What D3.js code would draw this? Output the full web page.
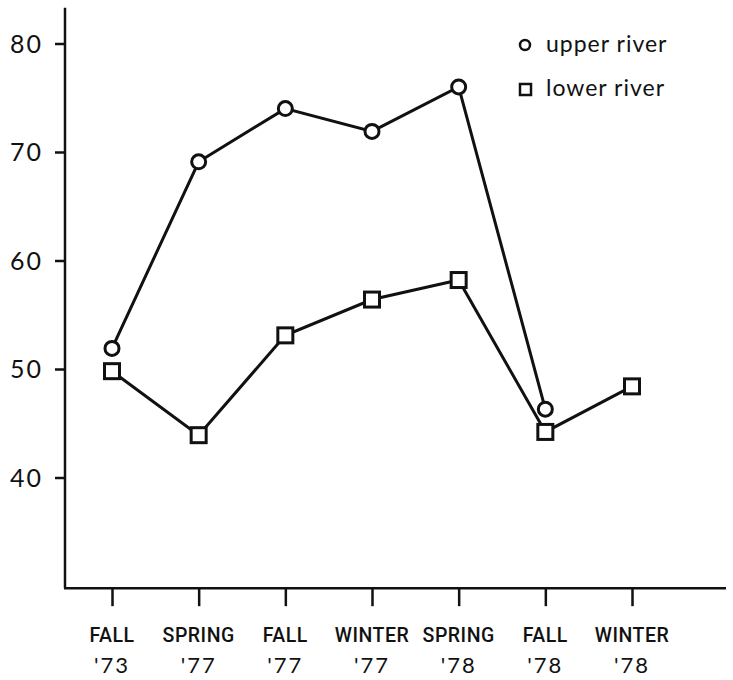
<!DOCTYPE html>
<html>
<head>
<meta charset="utf-8">
<script src="https://cdn.jsdelivr.net/npm/d3@7"></script>
<style>
  body { margin: 0; background: #fff; }
  svg { display: block; }
</style>
</head>
<body>
<div id="chart"></div>
<script>
const seasons = ["FALL", "SPRING", "FALL", "WINTER", "SPRING", "FALL", "WINTER"];
const years = ["'73", "'77", "'77", "'77", "'78", "'78", "'78"];
const upperRiver = [51.9, 69.1, 74.0, 71.9, 76.0, 46.3, null];
const lowerRiver = [49.8, 43.9, 53.1, 56.4, 58.2, 44.2, 48.4];
const yTicks = [40, 50, 60, 70, 80];

const width = 733, height = 680;
const ink = "#111";

const svg = d3.select("#chart").append("svg")
  .attr("width", width)
  .attr("height", height);

const x = d3.scalePoint()
  .domain(d3.range(seasons.length))
  .range([112, 632]);

const y = d3.scaleLinear()
  .domain([40, 80])
  .range([477.5, 43.5]);

const axisLeft = 65, axisBottom = y(29.8), axisTop = y(83.3), axisRight = 726;

// axis lines
svg.append("line")
  .attr("x1", axisLeft).attr("x2", axisLeft)
  .attr("y1", axisTop).attr("y2", axisBottom)
  .attr("stroke", ink).attr("stroke-width", 2.5);
svg.append("line")
  .attr("x1", axisLeft - 1).attr("x2", axisRight)
  .attr("y1", axisBottom).attr("y2", axisBottom)
  .attr("stroke", ink).attr("stroke-width", 2.5);

// y ticks
const gy = svg.append("g")
  .attr("transform", `translate(${axisLeft},0)`)
  .call(d3.axisLeft(y).tickValues(yTicks).tickSize(10).tickPadding(12));
gy.select(".domain").remove();
gy.selectAll(".tick line").attr("stroke", ink).attr("stroke-width", 2.5);
gy.selectAll(".tick text")
  .attr("fill", ink)
  .style("font-family", "Lato, 'DejaVu Sans', sans-serif")
  .style("font-size", "25px")
  .style("letter-spacing", "2px")
  .attr("dy", "0.35em");

// x ticks
const gx = svg.append("g")
  .attr("transform", `translate(0,${axisBottom})`)
  .call(d3.axisBottom(x).tickSize(18).tickFormat(""));
gx.select(".domain").remove();
gx.selectAll(".tick line").attr("stroke", ink).attr("stroke-width", 2.5);

const labels = svg.append("g")
  .style("font-family", "Roboto, 'Liberation Sans', sans-serif")
  .style("font-weight", 500)
  .style("font-size", "19.5px")
  .attr("fill", ink)
  .attr("text-anchor", "middle");
labels.selectAll("text.season")
  .data(seasons)
  .join("text")
  .attr("class", "season")
  .attr("x", (d, i) => x(i))
  .attr("y", 642)
  .style("letter-spacing", "0.5px")
  .text(d => d);
labels.selectAll("text.year")
  .data(years)
  .join("text")
  .attr("class", "year")
  .attr("x", (d, i) => x(i))
  .attr("y", 673)
  .style("font-family", "Lato, 'DejaVu Sans', sans-serif")
  .style("font-weight", 400)
  .style("font-size", "22px")
  .style("letter-spacing", "2px")
  .text(d => d);

const line = d3.line()
  .defined(d => d != null)
  .x((d, i) => x(i))
  .y(d => y(d));

// lines
svg.append("path")
  .datum(upperRiver)
  .attr("d", line)
  .attr("fill", "none")
  .attr("stroke", ink)
  .attr("stroke-width", 3);
svg.append("path")
  .datum(lowerRiver)
  .attr("d", line)
  .attr("fill", "none")
  .attr("stroke", ink)
  .attr("stroke-width", 3);

// markers
svg.selectAll("circle.upper")
  .data(upperRiver.map((v, i) => ({ v, i })).filter(d => d.v != null))
  .join("circle")
  .attr("class", "upper")
  .attr("cx", d => x(d.i))
  .attr("cy", d => y(d.v))
  .attr("r", 7)
  .attr("fill", "#fff")
  .attr("stroke", ink)
  .attr("stroke-width", 3);

const sq = 15;
svg.selectAll("rect.lower")
  .data(lowerRiver.map((v, i) => ({ v, i })))
  .join("rect")
  .attr("class", "lower")
  .attr("x", d => x(d.i) - sq / 2)
  .attr("y", d => y(d.v) - sq / 2)
  .attr("width", sq)
  .attr("height", sq)
  .attr("fill", "#fff")
  .attr("stroke", ink)
  .attr("stroke-width", 3);

// legend
const legend = svg.append("g")
  .style("font-family", "Lato, 'DejaVu Sans', sans-serif")
  .style("font-size", "23px")
  .attr("fill", ink);
legend.append("circle")
  .attr("cx", 525).attr("cy", 45).attr("r", 5)
  .attr("fill", "none").attr("stroke", ink).attr("stroke-width", 2.5);
legend.append("text")
  .attr("x", 546).attr("y", 52)
  .style("letter-spacing", "1px")
  .text("upper river");
legend.append("rect")
  .attr("x", 520).attr("y", 84).attr("width", 11).attr("height", 11)
  .attr("fill", "none").attr("stroke", ink).attr("stroke-width", 2.5);
legend.append("text")
  .attr("x", 546).attr("y", 96)
  .style("letter-spacing", "1px")
  .text("lower river");
</script>
</body>
</html>
